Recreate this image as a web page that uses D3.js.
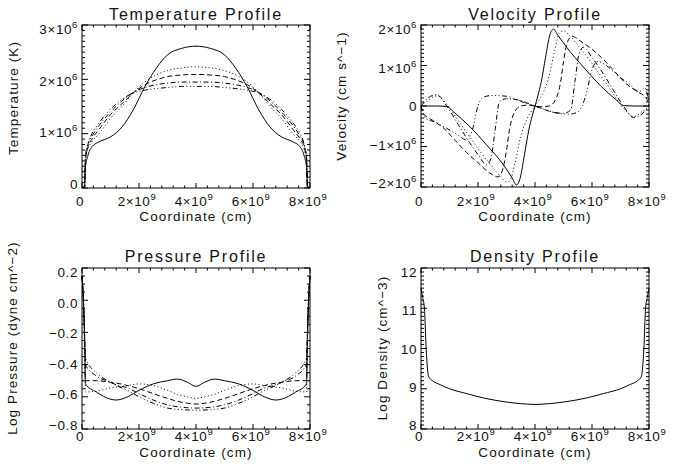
<!DOCTYPE html>
<html>
<head>
<meta charset="utf-8">
<script src="https://cdn.jsdelivr.net/npm/d3@7"></script>
<style>
  body { margin: 0; background: #fff; }
  text { font-family: 'Liberation Sans', Arial, sans-serif; fill: #111; }
</style>
</head>
<body>
<svg id="viz"></svg>
<script>
const width = 673
const height = 474

// x in 1e9 cm
// Temperature (1e6 K)
const tempX = [0, 0.09, 0.12, 0.2, 0.35, 0.6, 1.0, 1.4, 1.8, 2.2, 2.6, 3.0, 3.5, 4.0,
  4.5, 5.0, 5.4, 5.8, 6.2, 6.6, 7.0, 7.4, 7.65, 7.8, 7.88, 7.91, 8.0]
const tempSolid = [0.01, 0.02, 0.38, 0.58, 0.76, 0.85, 0.94, 1.12, 1.44, 1.86, 2.2, 2.45, 2.57, 2.61,
  2.57, 2.45, 2.2, 1.86, 1.44, 1.12, 0.94, 0.85, 0.76, 0.58, 0.38, 0.02, 0.01]
const tempDot = [0.01, 0.02, 0.45, 0.7, 0.85, 1.0, 1.28, 1.5, 1.75, 1.95, 2.08, 2.16, 2.21, 2.23,
  2.21, 2.16, 2.08, 1.95, 1.75, 1.5, 1.28, 1.0, 0.85, 0.7, 0.45, 0.02, 0.01]
const tempDash = [0.01, 0.02, 0.5, 0.74, 0.9, 1.08, 1.35, 1.55, 1.75, 1.9, 1.99, 2.05, 2.08, 2.09,
  2.08, 2.05, 1.99, 1.9, 1.75, 1.55, 1.35, 1.08, 0.9, 0.74, 0.5, 0.02, 0.01]
const tempDashDot = [0.01, 0.02, 0.55, 0.78, 0.95, 1.15, 1.4, 1.6, 1.76, 1.85, 1.9, 1.93, 1.95, 1.95,
  1.95, 1.93, 1.9, 1.85, 1.76, 1.6, 1.4, 1.15, 0.95, 0.78, 0.55, 0.02, 0.01]
const tempDash3Dot = [0.01, 0.02, 0.58, 0.8, 1.0, 1.2, 1.45, 1.63, 1.75, 1.8, 1.83, 1.85, 1.87, 1.87,
  1.87, 1.85, 1.83, 1.8, 1.75, 1.63, 1.45, 1.2, 1.0, 0.8, 0.58, 0.02, 0.01]

// Velocity (1e6 cm/s), [x, v] pairs
const velSolid = [[0, 0], [0.5, 0], [0.9, -0.01], [1.15, -0.15], [1.7, -0.5], [2.3, -0.96], [2.9, -1.46],
  [3.2, -1.78], [3.35, -1.95], [3.48, -1.78], [3.63, -1.2], [3.78, -0.6], [3.9, -0.25], [4.0, 0],
  [4.1, 0.25], [4.22, 0.6], [4.37, 1.2], [4.52, 1.75], [4.65, 1.9], [4.8, 1.75], [5.1, 1.46],
  [5.7, 0.96], [6.3, 0.5], [6.85, 0.15], [7.1, 0.01], [7.5, 0], [8, 0]]
const velDot = [[0, 0], [0.2, 0.12], [0.55, 0.25], [0.9, 0.05], [1.3, -0.35], [1.7, -0.75], [2.1, -1.15],
  [2.5, -1.5], [2.8, -1.75], [3.0, -1.88], [3.15, -1.8], [3.3, -1.4], [3.5, -0.75], [3.7, -0.35],
  [3.85, -0.15], [4.0, 0], [4.15, 0.15], [4.3, 0.35], [4.5, 0.75], [4.7, 1.4], [4.85, 1.8], [5.0, 1.86],
  [5.2, 1.75], [5.5, 1.5], [5.9, 1.15], [6.3, 0.75], [6.7, 0.35], [7.1, -0.05], [7.45, -0.26],
  [7.8, -0.12], [8, 0]]
const velDash = [[0, 0], [0.1, -0.2], [0.4, -0.35], [0.8, -0.55], [1.2, -0.85], [1.6, -1.15], [2.0, -1.4],
  [2.4, -1.65], [2.7, -1.75], [2.85, -1.6], [3.0, -1.1], [3.1, -0.6], [3.25, -0.2], [3.5, 0.0],
  [3.75, 0.02], [4.0, 0], [4.25, -0.02], [4.5, 0.0], [4.75, 0.2], [4.9, 0.6], [5.0, 1.1], [5.15, 1.6],
  [5.3, 1.72], [5.6, 1.6], [6.0, 1.4], [6.4, 1.15], [6.8, 0.85], [7.2, 0.55], [7.6, 0.35],
  [7.9, 0.2], [8, 0]]
const velDashDot = [[0, 0], [0.25, 0.2], [0.55, 0.28], [0.9, 0.0], [1.3, -0.45], [1.7, -0.9], [2.0, -1.2],
  [2.3, -1.45], [2.45, -1.3], [2.6, -0.6], [2.75, 0.1], [3.0, 0.18], [3.4, 0.15], [3.7, 0.08], [4.0, 0],
  [4.3, -0.08], [4.6, -0.15], [5.0, -0.18], [5.25, -0.1], [5.4, 0.6], [5.55, 1.3], [5.7, 1.45],
  [6.0, 1.2], [6.3, 0.9], [6.7, 0.45], [7.1, 0.0], [7.45, -0.28], [7.75, -0.2], [8, 0]]
const velDash3Dot = [[0, 0], [0.15, -0.3], [0.5, -0.4], [0.9, -0.55], [1.3, -0.72], [1.6, -0.84],
  [1.8, -0.6], [2.0, 0.0], [2.2, 0.22], [2.5, 0.26], [3.0, 0.24], [3.4, 0.15], [3.7, 0.06], [4.0, 0],
  [4.4, -0.1], [4.8, -0.18], [5.2, -0.2], [5.5, -0.15], [5.8, 0.3], [6.0, 0.9], [6.2, 1.1],
  [6.5, 1.0], [6.9, 0.75], [7.3, 0.55], [7.65, 0.35], [7.85, 0.45], [8, 0.1]]

// Log pressure
const presX = [0, 0.05, 0.1, 0.12, 0.5, 1.0, 1.2, 1.6, 2.0, 2.5, 3.0, 3.35, 3.7, 4.0,
  4.3, 4.65, 5.0, 5.5, 6.0, 6.4, 6.8, 7.0, 7.5, 7.88, 7.9, 7.95, 8.0]
const presSolid = [0.15, 0.0, -0.3, -0.52, -0.57, -0.615, -0.62, -0.6, -0.56, -0.52, -0.5, -0.49, -0.51, -0.535,
  -0.51, -0.49, -0.5, -0.52, -0.56, -0.6, -0.62, -0.615, -0.57, -0.52, -0.3, 0.0, 0.15]
const presDot = [0.15, 0.0, -0.3, -0.57, -0.565, -0.545, -0.54, -0.53, -0.52, -0.53, -0.56, -0.585, -0.6, -0.61,
  -0.6, -0.585, -0.56, -0.53, -0.52, -0.53, -0.54, -0.545, -0.565, -0.57, -0.3, 0.0, 0.15]
const presDash = [0.15, 0.0, -0.3, -0.5, -0.5, -0.51, -0.515, -0.53, -0.55, -0.58, -0.61, -0.628, -0.64, -0.645,
  -0.64, -0.628, -0.61, -0.58, -0.55, -0.53, -0.515, -0.51, -0.5, -0.5, -0.3, 0.0, 0.15]
const presDashDot = [0.15, 0.0, -0.3, -0.4, -0.47, -0.51, -0.525, -0.545, -0.58, -0.62, -0.65, -0.662, -0.668, -0.67,
  -0.668, -0.662, -0.65, -0.62, -0.58, -0.545, -0.525, -0.51, -0.47, -0.4, -0.3, 0.0, 0.15]
const presDash3Dot = [0.15, 0.0, -0.3, -0.36, -0.45, -0.51, -0.53, -0.56, -0.6, -0.64, -0.67, -0.678, -0.682, -0.683,
  -0.682, -0.678, -0.67, -0.64, -0.6, -0.56, -0.53, -0.51, -0.45, -0.36, -0.3, 0.0, 0.15]

// Log density
const densX = [0, 0.05, 0.12, 0.18, 0.27, 0.4, 0.68, 1.0, 1.6, 2.2, 3.0, 3.5, 4.0,
  4.5, 5.0, 5.8, 6.4, 7.0, 7.32, 7.6, 7.73, 7.82, 7.88, 7.95, 8.0]
const densSolid = [11.5, 11.3, 11.0, 10.0, 9.3, 9.2, 9.1, 9.0, 8.88, 8.77, 8.67, 8.63, 8.61,
  8.63, 8.67, 8.77, 8.88, 9.0, 9.1, 9.2, 9.3, 10.0, 11.0, 11.3, 11.5]

const xTicks = [0, 2, 4, 6, 8]
const xTickLabels = ['0', '2×10|9', '4×10|9', '6×10|9', '8×10|9']

const panels = [
  {
    title: 'Temperature Profile', ytitle: 'Temperature (K)',
    box: [82, 25, 310, 188], yDomain: [0, 3], yTicks: [0, 1, 2, 3], yMinor: 10,
    yTickLabels: ['0', '1×10|6', '2×10|6', '3×10|6'],
    titleY: 20, xlabY: 206, xtitleY: 221, ytitleX: 18, ytitleMid: 98,
    series: [tempSolid, tempDot, tempDash, tempDashDot, tempDash3Dot].map(s => s.map((v, i) => [tempX[i], v]))
  },
  {
    title: 'Velocity Profile', ytitle: 'Velocity (cm s^−1)',
    box: [421, 25, 649, 187], yDomain: [-2, 2], yTicks: [-2, -1, 0, 1, 2], yMinor: 10,
    yTickLabels: ['−2×10|6', '−1×10|6', '0', '1×10|6', '2×10|6'],
    titleY: 20, xlabY: 206, xtitleY: 221, ytitleX: 346, ytitleMid: 96,
    series: [velSolid, velDot, velDash, velDashDot, velDash3Dot]
  },
  {
    title: 'Pressure Profile', ytitle: 'Log Pressure (dyne cm^−2)',
    box: [82, 268, 310, 429], yDomain: [-0.8, 0.2], yTicks: [-0.8, -0.6, -0.4, -0.2, 0, 0.2], yMinor: 4,
    yTickLabels: ['−0.8', '−0.6', '−0.4', '−0.2', '0.0', '0.2'],
    titleY: 262, xlabY: 441, xtitleY: 457, ytitleX: 17, ytitleMid: 338,
    series: [presSolid, presDot, presDash, presDashDot, presDash3Dot].map(s => s.map((v, i) => [presX[i], v]))
  },
  {
    title: 'Density Profile', ytitle: 'Log Density (cm^−3)',
    box: [421, 268, 649, 429], yDomain: [8, 12], yTicks: [8, 9, 10, 11, 12], yMinor: 10,
    yTickLabels: ['8', '9', '10', '11', '12'],
    titleY: 262, xlabY: 441, xtitleY: 457, ytitleX: 387, ytitleMid: 348,
    series: [densSolid].map(s => s.map((v, i) => [densX[i], v]))
  }
]

const dashes = [null, '1,2.5', '5,3', '5,2.5,1,2.5', '5,2.5,1,2.5,1,2.5,1,2.5']

const svg = d3.select('#viz').attr('width', width).attr('height', height)

function sciLabel(sel, label) {
  const parts = label.split('|')
  sel.text(parts[0])
  if (parts[1]) {
    sel.append('tspan').attr('dy', -6).attr('font-size', 9.5).text(parts[1])
  }
}

panels.forEach((p) => {
  const [x0, y0, x1, y1] = p.box
  const x = d3.scaleLinear().domain([0, 8]).range([x0, x1])
  const y = d3.scaleLinear().domain(p.yDomain).range([y1, y0])
  // tick labels sit slightly pulled in toward the middle of the axis
  const yLab = d3.scaleLinear().domain(p.yDomain).range([y1 - 4, y0 + 4])
  const g = svg.append('g')

  // curves
  const line = d3.line().x(d => x(d[0])).y(d => y(d[1])).curve(d3.curveMonotoneX)
  g.append('g')
    .selectAll('path')
    .data(p.series)
    .join('path')
    .attr('d', line)
    .attr('fill', 'none')
    .attr('stroke', '#000')
    .attr('stroke-width', 1)
    .attr('stroke-dasharray', (d, i) => dashes[i])

  // box
  g.append('rect')
    .attr('x', x0).attr('y', y0)
    .attr('width', x1 - x0).attr('height', y1 - y0)
    .attr('fill', 'none').attr('stroke', '#000').attr('stroke-width', 1)

  // x ticks (inside, top and bottom)
  const xMajor = 5, xMinorStep = 2 / 5
  const xMinorVals = d3.range(0, 8 + 1e-6, xMinorStep)
  const ticks = g.append('g').attr('stroke', '#000').attr('stroke-width', 1)
  xMinorVals.forEach((v, i) => {
    const len = i % xMajor === 0 ? 5 : 2.5
    ticks.append('line').attr('x1', x(v)).attr('x2', x(v)).attr('y1', y1).attr('y2', y1 - len)
    ticks.append('line').attr('x1', x(v)).attr('x2', x(v)).attr('y1', y0).attr('y2', y0 + len)
  })
  // y ticks (inside, left and right)
  const yStep = (p.yTicks[1] - p.yTicks[0]) / p.yMinor
  const yMinorVals = d3.range(p.yDomain[0], p.yDomain[1] + yStep / 2, yStep)
  yMinorVals.forEach((v, i) => {
    const len = i % p.yMinor === 0 ? 6 : 3
    ticks.append('line').attr('x1', x0).attr('x2', x0 + len).attr('y1', y(v)).attr('y2', y(v))
    ticks.append('line').attr('x1', x1).attr('x2', x1 - len).attr('y1', y(v)).attr('y2', y(v))
  })

  // x tick labels
  g.append('g')
    .selectAll('text')
    .data(xTicks)
    .join('text')
    .attr('x', d => x(d) - 2)
    .attr('y', p.xlabY)
    .attr('text-anchor', 'middle')
    .attr('font-size', 13.5)
    .attr('letter-spacing', 0.6)
    .each(function (d, i) { sciLabel(d3.select(this), xTickLabels[i]) })

  // y tick labels
  g.append('g')
    .selectAll('text')
    .data(p.yTicks)
    .join('text')
    .attr('x', x0 - 4)
    .attr('y', d => yLab(d) + 5)
    .attr('text-anchor', 'end')
    .attr('font-size', 13.5)
    .attr('letter-spacing', 0.6)
    .each(function (d, i) { sciLabel(d3.select(this), p.yTickLabels[i]) })

  // titles
  g.append('text')
    .attr('x', (x0 + x1) / 2).attr('y', p.titleY)
    .attr('text-anchor', 'middle').attr('font-size', 16).attr('letter-spacing', 1.8)
    .text(p.title)
  g.append('text')
    .attr('x', (x0 + x1) / 2).attr('y', p.xtitleY)
    .attr('text-anchor', 'middle').attr('font-size', 13.5).attr('letter-spacing', 1.1)
    .text('Coordinate (cm)')
  g.append('text')
    .attr('transform', `translate(${p.ytitleX},${p.ytitleMid}) rotate(-90)`)
    .attr('text-anchor', 'middle').attr('font-size', 13.5).attr('letter-spacing', 1.1)
    .text(p.ytitle)
})
</script>
</body>
</html>
